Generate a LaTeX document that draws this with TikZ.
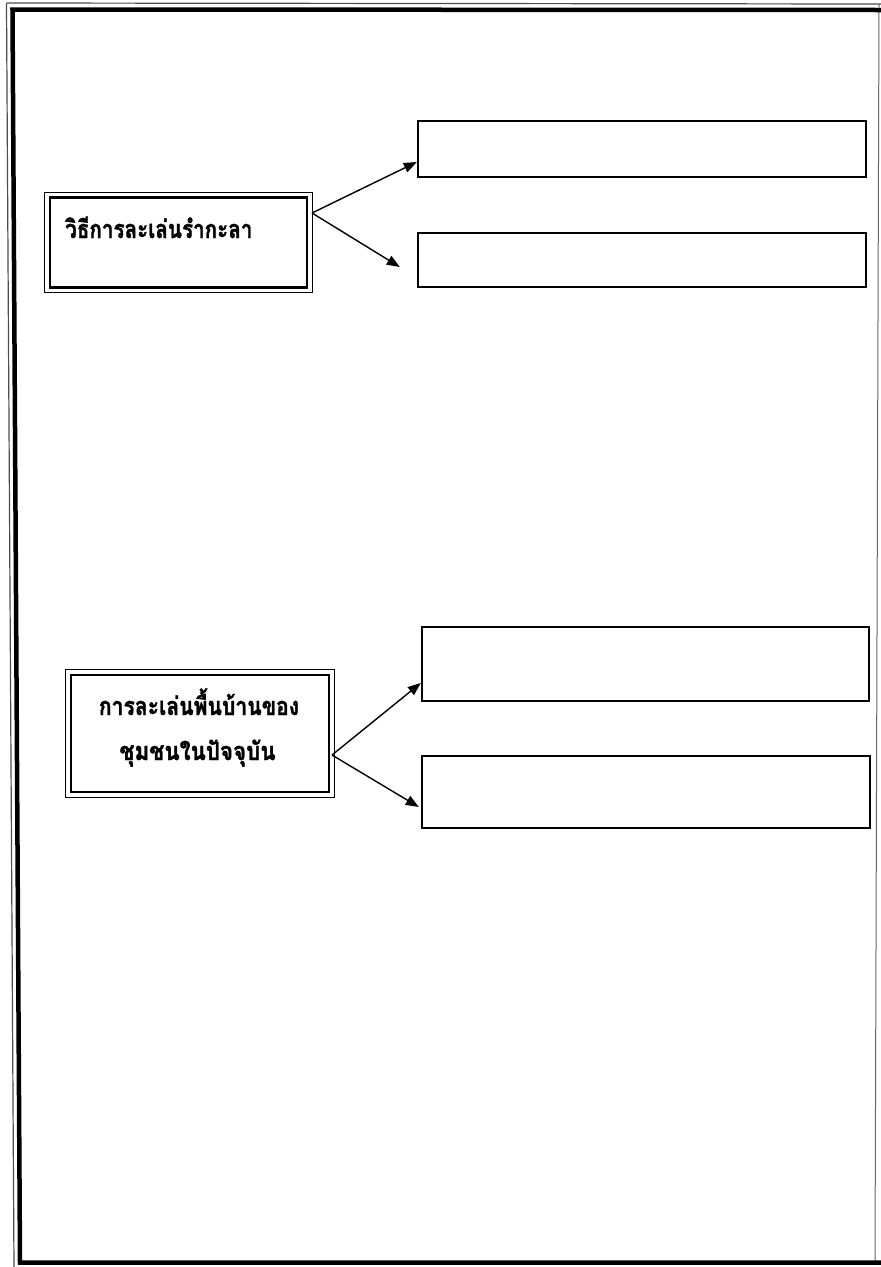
\documentclass[tikz,border=0pt]{standalone}
\usepackage{fontspec}
\usepackage{graphicx}
\newfontfamily\thaifont[Script=Thai,FakeBold=1.5]{Loma}
\usetikzlibrary{arrows.meta,fit}
\begin{document}
\begin{tikzpicture}[x=1pt,y=-1pt,
  rbox/.style={draw, line width=2.4pt, inner sep=0pt},
  lbox/.style={draw, line width=2.6pt, inner sep=0pt},
  lboxout/.style={draw, line width=1.1pt, inner sep=4pt},
  arr/.style={line width=1.4pt, -{Triangle[length=13pt,width=10pt]}},
  lbl/.style={font=\thaifont\bfseries\fontsize{24}{28}\selectfont, inner sep=0pt}
]
\useasboundingbox (0,0) rectangle (881,1267);
% page frame
\draw[line width=1.2pt, black!70] (6.5,3) -- (14,1267);
\draw[line width=1.2pt, black!70] (6.5,3) -- (881,4);
\draw[line width=1pt, black!60] (879,4) -- (875,1262);
\draw[line width=4.5pt] (881,10) -- (12.5,9.5) -- (20,1262.5) -- (881,1262.5);

% upper group
\node[lbox, minimum width=257pt, minimum height=90pt] (b1) at (178.5,242.5) {};
\node[lboxout, fit=(b1)] (b1o) {};
\node[lbl, anchor=base west] (t1) at (65,238) {\scalebox{0.86}[1.05]{วิธีการละเล่นรำกะลา}};
\node[rbox, minimum width=448pt, minimum height=56pt] (r1) at (642,149) {};
\node[rbox, minimum width=448pt, minimum height=54pt] (r2) at (642,260) {};
\coordinate (o1) at (312,213);
\draw[arr] (o1) -- ([yshift=-13pt]r1.west);
\draw[arr] (o1) -- ([xshift=-17pt,yshift=-7pt]r2.west);

% lower group
\node[lbl, anchor=base] (t3a) at (199,715) {\scalebox{0.88}[1.05]{การละเล่นพื้นบ้านของ}};
\node[lbl, anchor=base] (t3b) at (197.5,760) {\scalebox{0.93}[1.05]{ชุมชนในปัจจุบัน}};
\node[lbox, minimum width=258pt, minimum height=117pt] (b3) at (200,733.5) {};
\node[lboxout, fit=(b3)] (b3o) {};
\node[rbox, minimum width=447pt, minimum height=74pt] (r3) at (645.5,664) {};
\node[rbox, minimum width=448pt, minimum height=72pt] (r4) at (646,792) {};
\coordinate (o3) at (332,755);
\draw[arr] (o3) -- ([yshift=-19pt]r3.west);
\draw[arr] (o3) -- ([xshift=-2pt,yshift=-15pt]r4.west);
\end{tikzpicture}
\end{document}
